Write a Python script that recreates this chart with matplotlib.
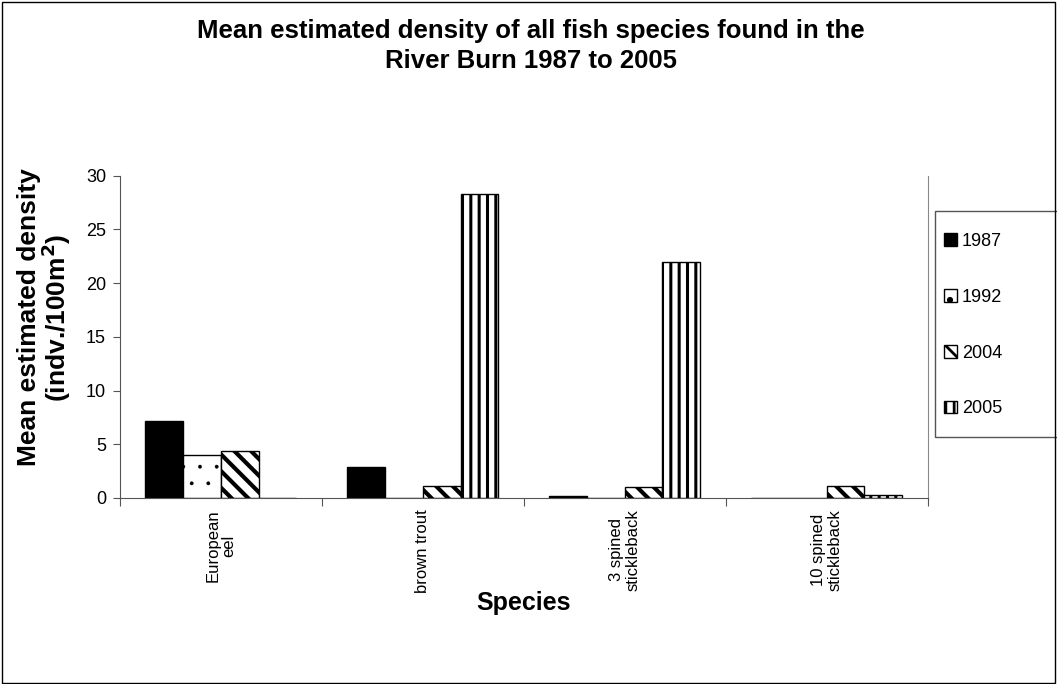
import matplotlib
matplotlib.use('Agg')
import matplotlib.pyplot as plt
from matplotlib.patches import Patch, Rectangle
import numpy as np

plt.rcParams['font.family'] = ['Liberation Sans', 'DejaVu Sans']
plt.rcParams['hatch.linewidth'] = 2.0

species = ['European\neel', 'brown trout', '3 spined\nstickleback', '10 spined\nstickleback']
years = ['1987', '1992', '2004', '2005']
d1987 = [7.2, 2.9, 0.2, 0.0]
d1992 = [4.0, 0.0, 0.0, 0.0]
d2004 = [4.4, 1.1, 1.0, 1.1]
d2005 = [0.0, 28.3, 22.0, 0.3]
series = [d1987, d1992, d2004, d2005]

styles = [dict(facecolor='black', hatch=None, hlw=1.0),
          dict(facecolor='white', hatch='.', hlw=0.3),
          dict(facecolor='white', hatch='\\\\', hlw=3.0),
          dict(facecolor='white', hatch='||', hlw=2.2)]

fig = plt.figure(figsize=(10.57, 6.84), dpi=100)
ax = fig.add_axes([0.1135, 0.272, 0.764, 0.471])

x = np.arange(len(species))
w = 0.187
for i, (vals, st) in enumerate(zip(series, styles)):
    pos = x + (i - 1.5) * w
    bars = ax.bar(pos, vals, w, facecolor=st['facecolor'], edgecolor='black',
                  linewidth=1.0, hatch=st['hatch'], label=years[i])
    for b in bars:
        if hasattr(b, 'set_hatch_linewidth'):
            b.set_hatch_linewidth(st['hlw'])

ax.set_xlim(-0.5, 3.5)
ax.set_ylim(0, 30)
ax.set_yticks(range(0, 31, 5))
ax.set_xticks(np.arange(-0.5, 3.6, 1.0))
ax.set_xticklabels([])
ax.set_xticks(x, minor=True)
ax.set_xticklabels(species, minor=True, rotation=90, fontsize=12, va='top', ha='center',
                   linespacing=1.1)
ax.tick_params(axis='x', which='minor', length=0, pad=8)
ax.tick_params(axis='x', which='major', length=6, direction='out', color='#555555')
ax.tick_params(axis='y', length=5, direction='out', labelsize=13, color='#555555', pad=5)

ax.spines['top'].set_visible(False)
ax.spines['right'].set_color('#888888')
ax.spines['left'].set_color('#555555')
ax.spines['bottom'].set_color('#555555')

ax.set_xlabel('Species', fontsize=18, fontweight='bold')
ax.xaxis.set_label_coords(0.5, -0.29)
ax.set_ylabel('Mean estimated density\n(indv./100m$\\mathbf{^2}$)', fontsize=19, fontweight='bold',
              linespacing=0.95)
ax.yaxis.set_label_coords(-0.058, 0.56)

fig.suptitle('Mean estimated density of all fish species found in the\nRiver Burn 1987 to 2005',
             fontsize=18.5, fontweight='bold', x=0.502, y=0.972, linespacing=1.3)

# legend box drawn separately so it can run off the right edge like the original
fig.patches.append(Rectangle((935 / 1057, 1 - 437 / 684), 130 / 1057, 226 / 684,
                             transform=fig.transFigure, fill=False,
                             edgecolor='#555555', linewidth=1.0))
handles = [Patch(facecolor=st['facecolor'], edgecolor='black', hatch=st['hatch'], label=y)
           for st, y in zip(styles, years)]
leg = fig.legend(handles=handles, loc='upper left', bbox_to_anchor=(944 / 1057, 1 - 233 / 684),
                 fontsize=13, frameon=False, labelspacing=2.15, handlelength=0.7,
                 handleheight=0.7, handletextpad=0.3, borderpad=0, borderaxespad=0)

fig.patches.append(Rectangle((0.002, 0.002), 0.996, 0.995, transform=fig.transFigure,
                             fill=False, edgecolor='black', linewidth=1.0))

plt.savefig('out.png', dpi=100, facecolor='white')
